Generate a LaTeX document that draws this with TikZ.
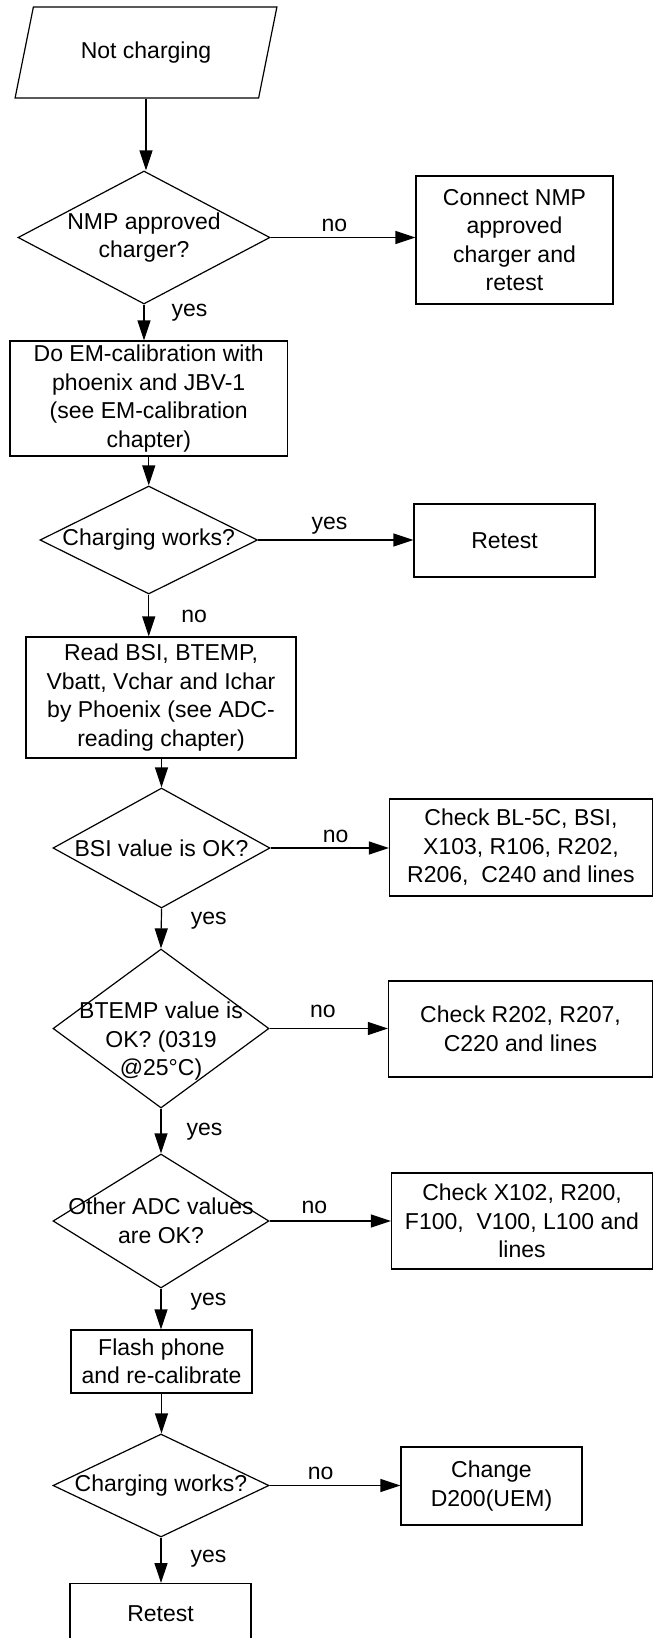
\documentclass[tikz,border=0pt]{standalone}
\usepackage{fontspec}
\setmainfont{Liberation Sans}
\usepackage{tikz}
\usetikzlibrary{shapes.geometric, arrows.meta}

\tikzset{
  procbox/.style={draw, rectangle, align=center, inner sep=0pt},
  decision/.style={draw, diamond, inner sep=0pt},
  flowarrow/.style={-{Triangle[length=20pt, width=13pt]}},
  answer/.style={inner sep=0pt}
}

\begin{document}
\begin{tikzpicture}[x=1pt, y=-1pt, line width=1.2pt, font=\fontsize{23}{28.5}\selectfont]
  \useasboundingbox (0,0) rectangle (653,1638);
  \node[draw, trapezium, trapezium left angle=63.7, trapezium right angle=116.3, trapezium stretches=true, minimum width=262pt, minimum height=91pt, inner sep=0pt] (start) at (146,52.5) {Not charging};
  \node[decision, minimum width=252pt, minimum height=133pt, label={[align=center]center:{NMP approved\\charger?}}] (d1) at (144,237.5) {};
  \node[procbox, minimum width=197pt, minimum height=128pt] (conn) at (514.5,240) {Connect NMP\\approved\\charger and\\retest};
  \node[procbox, minimum width=277.5pt, minimum height=115pt] (emcal) at (148.75,398.5) {Do EM-calibration with\\phoenix and JBV-1\\(see EM-calibration\\chapter)};
  \node[decision, minimum width=217.5pt, minimum height=108pt, label={[align=center]center:{Charging works?}}] (d2) at (148.75,540) {};
  \node[procbox, minimum width=181pt, minimum height=73pt] (retest1) at (504.5,540.5) {Retest};
  \node[procbox, minimum width=270pt, minimum height=121pt] (readadc) at (161,697.5) {Read BSI, BTEMP,\\Vbatt, Vchar and Ichar\\by Phoenix (see ADC-\\reading chapter)};
  \node[decision, minimum width=217pt, minimum height=120pt, label={[align=center]center:{BSI value is OK?}}] (d3) at (161.5,848) {};
  \node[procbox, minimum width=263pt, minimum height=97pt] (chk1) at (521,847.5) {Check BL-5C, BSI,\\X103, R106, R202,\\R206,\ \ C240 and lines};
  \node[decision, minimum width=216pt, minimum height=159pt, label={[align=center, yshift=-13pt]center:{BTEMP value is\\OK? (0319\\@25°C)}}] (d4) at (161,1028.5) {};
  \node[procbox, minimum width=264pt, minimum height=96pt] (chk2) at (520.5,1029) {Check R202, R207,\\C220 and lines};
  \node[decision, minimum width=216pt, minimum height=134pt, label={[align=center]center:{Other ADC values\\are OK?}}] (d5) at (161,1221) {};
  \node[procbox, minimum width=261pt, minimum height=96pt] (chk3) at (522,1221) {Check X102, R200,\\F100,\ \ V100, L100 and\\lines};
  \node[procbox, minimum width=181pt, minimum height=63pt] (flash) at (161.5,1361.5) {Flash phone\\and re-calibrate};
  \node[decision, minimum width=216pt, minimum height=103pt, label={[align=center]center:{Charging works?}}] (d6) at (161,1485.5) {};
  \node[procbox, minimum width=181pt, minimum height=78pt] (change) at (491.5,1486) {Change\\D200(UEM)};
  \node[procbox, minimum width=181pt, minimum height=60pt, anchor=north] (retest2) at (160.5,1583) {Retest};

  \draw[flowarrow] (start.south) -- (start.south |- d1.north);
  \draw[flowarrow] (d1.east) -- (conn.west |- d1.east) node[answer, above=5pt, pos=.44] {no};
  \draw[flowarrow] (d1.south) -- (d1.south |- emcal.north) node[answer, right=27pt, pos=.22] {yes};
  \draw[flowarrow] (emcal.south) -- (d2.north);
  \draw[flowarrow] (d2.east) -- (retest1.west |- d2.east) node[answer, above=5pt, pos=.46] {yes};
  \draw[flowarrow] (d2.south) -- (d2.south |- readadc.north) node[answer, right=32pt, pos=.53] {no};
  \draw[flowarrow] (d3.north |- readadc.south) -- (d3.north);
  \draw[flowarrow] (d3.east) -- (chk1.west |- d3.east) node[answer, above=5pt, pos=.55] {no};
  \draw[flowarrow] (d3.south) -- (d4.north) node[answer, right=29pt, pos=.3] {yes};
  \draw[flowarrow] (d4.east) -- (chk2.west |- d4.east) node[answer, above=10pt, pos=.45] {no};
  \draw[flowarrow] (d4.south) -- (d5.north) node[answer, right=25pt, pos=.52] {yes};
  \draw[flowarrow] (d5.east) -- (chk3.west |- d5.east) node[answer, above=7pt, pos=.37] {no};
  \draw[flowarrow] (d5.south) -- (d5.south |- flash.north) node[answer, right=29pt, pos=.31] {yes};
  \draw[flowarrow] (flash.south) -- (flash.south |- d6.north);
  \draw[flowarrow] (d6.east) -- (change.west |- d6.east) node[answer, above=5pt, pos=.39] {no};
  \draw[flowarrow] (d6.south) -- (d6.south |- retest2.north) node[answer, right=29pt, pos=.46] {yes};
\end{tikzpicture}
\end{document}
